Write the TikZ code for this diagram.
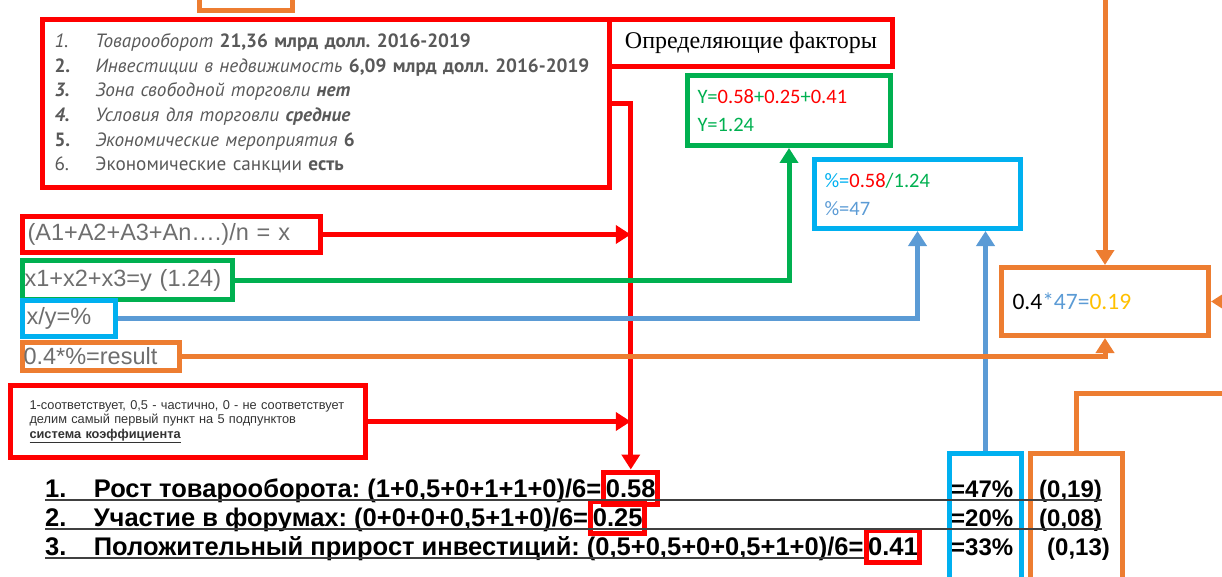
\documentclass[tikz,border=0pt]{standalone}
\usepackage{fontspec}
\setmainfont{Liberation Sans}
\newfontfamily\listefont{PT Sans}
\newfontfamily\calfont{Carlito}
\newfontfamily\titrefont{Liberation Serif}
\usetikzlibrary{positioning,arrows.meta}
\frenchspacing

\definecolor{rouge}{HTML}{FF0000}
\definecolor{vert}{HTML}{00B050}
\definecolor{ciel}{HTML}{00B0F0}
\definecolor{bleu}{HTML}{5B9BD5}
\definecolor{orng}{HTML}{ED7D31}
\definecolor{jaune}{HTML}{FFC000}
\definecolor{gris}{HTML}{595959}
\definecolor{grisclair}{HTML}{6E6E6E}

\newcommand{\rang}[1]{\makebox[41pt][l]{#1}}

\tikzset{
  cadre/.style={draw=#1, line width=5pt, anchor=north west, inner sep=0pt, align=left},
  fleche/.style={draw=#1, line width=5pt, -{Triangle[length=15pt,width=18pt]}},
  trait/.style={draw=#1, line width=5pt},
  ligne/.style={inner sep=0pt, anchor=base west, font=\fontsize{25.5}{30}\selectfont\bfseries},
  colonne/.style={inner sep=0pt, anchor=base west, font=\fontsize{24}{28}\selectfont\bfseries},
  valeur/.style={draw=rouge, line width=5pt, inner xsep=2pt, inner ysep=7pt,
    text height=18pt, text depth=0pt, font=\fontsize{25.5}{30}\selectfont\bfseries},
  souligne/.style={draw=black!75, line width=1.5pt},
  formule/.style={text=grisclair, font=\fontsize{23.5}{28}\selectfont},
}

\begin{document}
\begin{tikzpicture}[x=1pt,y=-1pt]
  \useasboundingbox (0,0) rectangle (1222,577);
  \clip (0,0) rectangle (1222,577);

  % Les cadres du haut
  \node (bout) [cadre=orng, minimum width=93pt, minimum height=35pt] at (197,-27) {};
  \node (facteurs) [cadre=rouge, minimum width=567pt, minimum height=168pt, text width=543pt,
    text=gris, font=\listefont\fontsize{19.2}{24.6}\selectfont] at (40,17) {
    \rang{\textit{1.}}\textit{Товарооборот} \textbf{21,36 млрд долл. 2016-2019}\\
    \rang{\textbf{2.}}\textit{Инвестиции в недвижимость} \textbf{6,09 млрд долл. 2016-2019}\\
    \rang{\textbf{\textit{3.}}}\textit{Зона свободной торговли} \textbf{\textit{нет}}\\
    \rang{\textbf{\textit{4.}}}\textit{Условия для торговли} \textbf{\textit{средние}}\\
    \rang{\textbf{5.}}\textit{Экономические мероприятия} \textbf{6}\\
    \rang{6.}Экономические санкции \textbf{есть}};
  \node (titre) [cadre=rouge, minimum width=283pt, minimum height=47pt,
    font=\titrefont\fontsize{24}{28}\selectfont] at (607,17) {Определяющие факторы};
  \node (somme) [cadre=vert, minimum width=203pt, minimum height=70pt, text width=183pt,
    text=vert, font=\calfont\fontsize{20.5}{28}\selectfont] at (685,73)
    {Y={\color{rouge}0.58}+{\color{rouge}0.25}+{\color{rouge}0.41}\\Y=1.24};
  \node (part) [cadre=ciel, minimum width=206pt, minimum height=69pt, text width=186pt,
    font=\calfont\fontsize{20.5}{28}\selectfont] at (812,157)
    {{\color{ciel}\%=}{\color{rouge}0.58}{\color{vert}/1.24}\\{\color{bleu}\%=47}};
  \node (res) [cadre=orng, minimum width=207pt, minimum height=68pt, text width=185pt,
    font=\calfont\fontsize{23.5}{28}\selectfont] at (999,265)
    {0.4{\color{bleu}*47=}{\color{jaune}0.19}};

  % Les formules
  \node (fx) [cadre=rouge, formule, minimum width=298pt, minimum height=36pt, text width=288pt]
    at (20,214) {(A1+A2+A3+An….)/n~=~x};
  \node (fy) [cadre=vert, formule, minimum width=210pt, minimum height=39pt, text width=206pt]
    at (20,258) {x1+x2+x3=y~(1.24)};
  \node (fp) [cadre=ciel, formule, minimum width=93pt, minimum height=36pt, text width=85pt]
    at (20,298) {x/y=\%};
  \node (fr) [cadre=orng, formule, minimum width=157pt, minimum height=28pt, text width=155pt]
    at (20,340) {0.4*\%=result};
  \node (note) [cadre=rouge, minimum width=355pt, minimum height=72pt, text width=317pt,
    text=black!80, font=\fontsize{12.8}{14.5}\selectfont] at (8,383) {
    1-соответствует, 0,5 - частично, 0 - не соответствует\\
    делим самый первый пункт на 5 подпунктов\\
    \textbf{\underline{система коэффициента}}};

  % Les lignes du bas
  \node (n1) [ligne] at (45,497) {1.};
  \node (r1) [ligne, base right=27pt of n1] {Рост товарооборота: (1+0,5+0+1+1+0)/6=};
  \node (v1) [valeur, base right=0pt of r1] {0.58};
  \node (n2) [ligne] at (45,526) {2.};
  \node (r2) [ligne, base right=27pt of n2] {Участие в форумах: (0+0+0+0,5+1+0)/6=};
  \node (v2) [valeur, base right=0pt of r2] {0.25};
  \node (n3) [ligne] at (45,555) {3.};
  \node (r3) [ligne, base right=27pt of n3] {Положительный прирост инвестиций: (0,5+0,5+0+0,5+1+0)/6=};
  \node (v3) [valeur, base right=0pt of r3] {0.41};
  \node (p1) [colonne] at (951,497) {=47\%};
  \node (p2) [colonne] at (951,526) {=20\%};
  \node (p3) [colonne] at (951,555) {=33\%};
  \node (q1) [colonne] at (1039,497) {(0,19)};
  \node (q2) [colonne] at (1039,526) {(0,08)};
  \node (q3) [colonne] at (1047,555) {(0,13)};
  \node (colpct) [cadre=ciel, minimum width=72pt, minimum height=150pt] at (947,451) {};
  \node (colres) [cadre=orng, minimum width=92pt, minimum height=150pt] at (1028,451) {};

  \draw[souligne] ([yshift=-3pt]n1.base west) -- ([yshift=-3pt]q1.base east);
  \draw[souligne] ([yshift=-3pt]n2.base west) -- ([yshift=-3pt]q2.base east);
  \draw[souligne] ([yshift=-3pt]n3.base west) -- ([yshift=-3pt]r3.base east);

  % Les flèches
  \coordinate (haut) at (res.north |- 0,-10);
  \coordinate (droite) at (1235,0 |- res.east);
  \coordinate (droite2) at (1235,393);
  \draw[fleche=rouge] (facteurs.east) -| (v1.north);
  \draw[fleche=rouge] (fx.east) -- (fx.east -| v1.north);
  \draw[fleche=rouge] (note.east) -- (note.east -| v1.north);
  \draw[fleche=vert] (fy.east) -| (somme.south);
  \draw[fleche=bleu] (fp.east) -| (part.south);
  \draw[fleche=bleu] (colpct.north) -- (colpct.north |- part.south);
  \draw[fleche=orng] (fr.east) -| (res.south);
  \draw[fleche=orng] (haut) -- (res.north);
  \draw[fleche=orng] (droite) -- (res.east);
  \draw[trait=orng] (droite2) -| (colres.north);
\end{tikzpicture}
\end{document}
